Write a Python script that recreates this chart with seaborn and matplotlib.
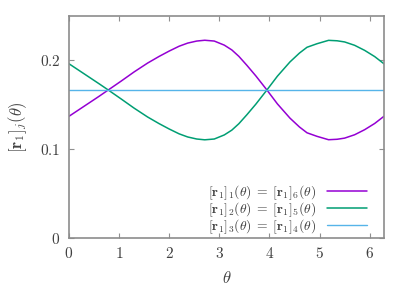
import matplotlib
matplotlib.use('Agg')
import matplotlib.pyplot as plt
import numpy as np
import pandas as pd
import seaborn as sns

# valori
theta = [0.0, 0.2, 0.4, 0.6, 0.785, 1.05, 1.3, 1.57, 1.8, 2.0, 2.2, 2.37, 2.55, 2.71,
         2.9, 3.1, 3.25, 3.39, 3.55, 3.73, 3.95, 4.16, 4.41, 4.6, 4.75, 4.95, 5.18,
         5.35, 5.5, 5.7, 5.9, 6.1, 6.283]
r1_16 = [0.137, 0.1445, 0.152, 0.1595, 0.1667, 0.177, 0.187, 0.197, 0.2045, 0.2105,
         0.216, 0.2195, 0.2218, 0.2227, 0.2218, 0.2172, 0.2118, 0.2046, 0.1945, 0.1825,
         0.1667, 0.151, 0.135, 0.125, 0.1185, 0.1145, 0.1107, 0.1112, 0.1125, 0.1163,
         0.122, 0.129, 0.137]
r1_25 = [0.1963, 0.1888, 0.1813, 0.1738, 0.1667, 0.1563, 0.1463, 0.1363, 0.1288, 0.1228,
         0.1173, 0.1138, 0.1115, 0.1106, 0.1115, 0.1161, 0.1215, 0.1287, 0.1388, 0.1508,
         0.1667, 0.1823, 0.1983, 0.2083, 0.2148, 0.2188, 0.2226, 0.2221, 0.2208, 0.217,
         0.2113, 0.2043, 0.1963]
theta_34 = [0.0, 6.283]
r1_34 = [0.1667, 0.1667]

labels = [r'$[\mathbf{r}_1]_1(\theta)\;=\;[\mathbf{r}_1]_6(\theta)$',
          r'$[\mathbf{r}_1]_2(\theta)\;=\;[\mathbf{r}_1]_5(\theta)$',
          r'$[\mathbf{r}_1]_3(\theta)\;=\;[\mathbf{r}_1]_4(\theta)$']
colors = ['#9400d3', '#009e73', '#56b4e9']
xticks = [0, 1, 2, 3, 4, 5, 6]
yticks = [0, 0.1, 0.2]
ytick_labels = ['$0$', '$0.1$', '$0.2$']

sns.set_style('white')
plt.rcParams['mathtext.fontset'] = 'cm'
plt.rcParams['font.family'] = ['DejaVu Serif']

fig = plt.figure(figsize=(4.15, 2.91), dpi=100)
ax = fig.add_axes([0.166, 0.182, 0.759, 0.763])

sns.lineplot(x=theta, y=r1_16, color=colors[0], lw=1.1, label=labels[0], ax=ax)
sns.lineplot(x=theta, y=r1_25, color=colors[1], lw=1.1, label=labels[1], ax=ax)
sns.lineplot(x=theta_34, y=r1_34, color=colors[2], lw=1.0, label=labels[2], ax=ax)

ax.set_xlim(0, 2 * np.pi)
ax.set_ylim(0, 0.25)
ax.set_xticks(xticks)
ax.set_xticklabels([f'${t}$' for t in xticks])
ax.set_yticks(yticks)
ax.set_yticklabels(ytick_labels)

txt = '#404040'
ax.tick_params(direction='in', length=3.5, width=0.8, color='#909090', labelsize=11,
               labelcolor=txt, top=True, right=True, bottom=True, left=True, pad=6)
for s in ax.spines.values():
    s.set_color('#8c8c8c')
    s.set_linewidth(1.2)

ax.set_xlabel(r'$\theta$', fontsize=12, color=txt, labelpad=6)
ax.set_ylabel(r'$[\mathbf{r}_1]_j(\theta)$', fontsize=12, color=txt, labelpad=8)

leg = ax.legend(loc='lower right', bbox_to_anchor=(0.945, 0.01), frameon=False,
                markerfirst=False, fontsize=9.8, handlelength=2.9, handletextpad=0.8,
                labelspacing=-0.12, borderaxespad=0.0, borderpad=0.0)
for t in leg.get_texts():
    t.set_color(txt)

fig.savefig('out.png', dpi=100)
